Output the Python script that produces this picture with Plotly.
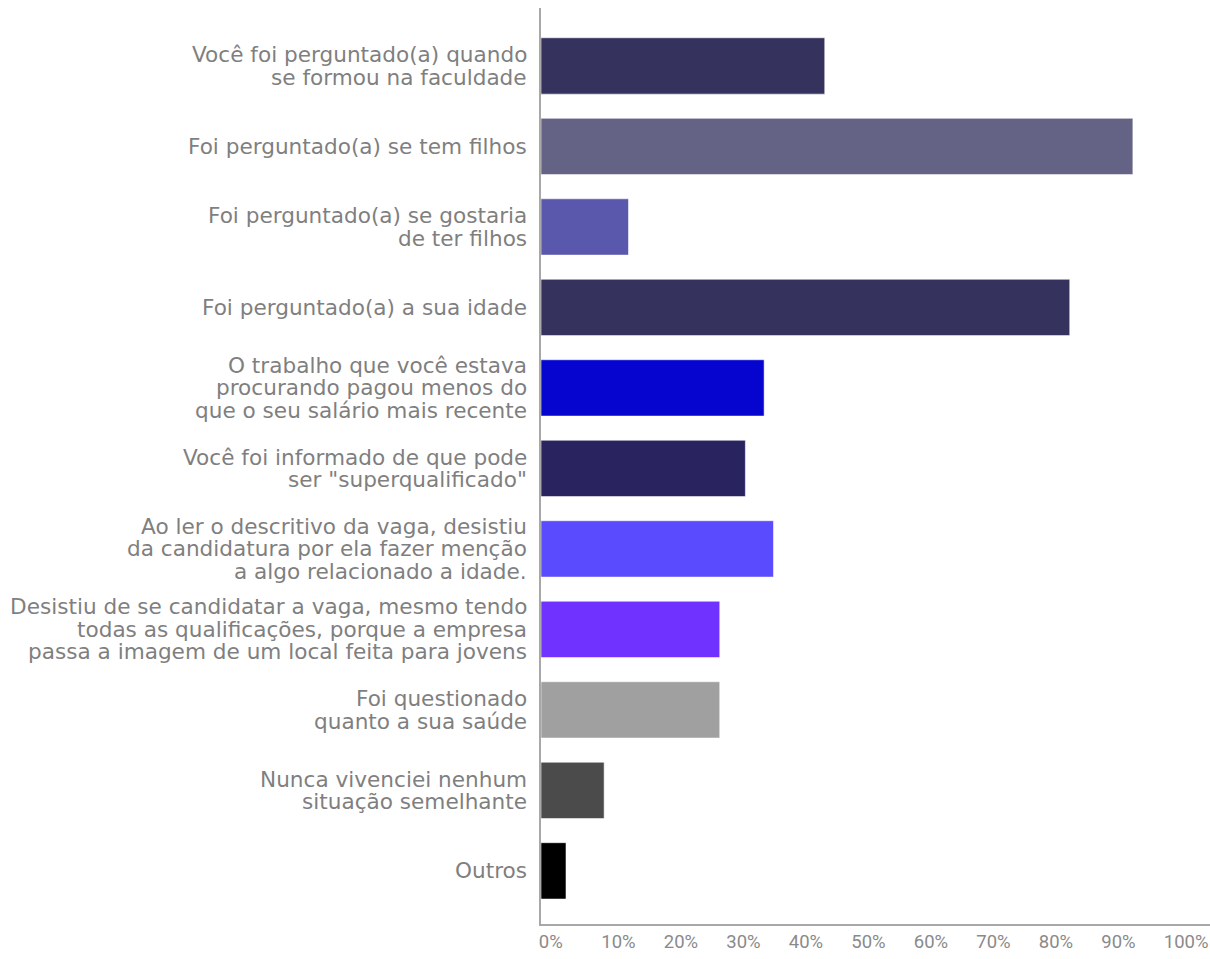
import plotly.graph_objects as go

# Survey answers (share of respondents, %); "\n" marks label line breaks
categories = [
    "Você foi perguntado(a) quando\nse formou na faculdade",
    "Foi perguntado(a) se tem filhos",
    "Foi perguntado(a) se gostaria\nde ter filhos",
    "Foi perguntado(a) a sua idade",
    "O trabalho que você estava\nprocurando pagou menos do\nque o seu salário mais recente",
    "Você foi informado de que pode\nser \"superqualificado\"",
    "Ao ler o descritivo da vaga, desistiu\nda candidatura por ela fazer menção\na algo relacionado a idade.",
    "Desistiu de se candidatar a vaga, mesmo tendo\ntodas as qualificações, porque a empresa\npassa a imagem de um local feita para jovens",
    "Foi questionado\nquanto a sua saúde",
    "Nunca vivenciei nenhum\nsituação semelhante",
    "Outros",
]
values = [45.4, 94.7, 14.0, 84.6, 35.7, 32.7, 37.2, 28.6, 28.6, 10.1, 4.0]
bar_colors = [
    "#35335D", "#646385", "#5A58AD", "#35335D", "#0505CF", "#29245F",
    "#5A4BFF", "#7033FF", "#A0A0A0", "#4B4B4B", "#000000",
]
tick_values = [0, 10, 20, 30, 40, 50, 60, 70, 80, 90, 100]
tick_labels = [f"{v}%" for v in tick_values]

LABEL_FONT = "DejaVu Sans"
TICK_FONT = "Liberation Sans Narrow, Roboto, Liberation Sans"
GREY = "#7f7f7f"
LABEL_SIZE = 21.6
LINE_STEP = 22.5  # px between label lines

fig = go.Figure(
    go.Bar(
        x=values,
        y=categories,
        orientation="h",
        marker=dict(color=bar_colors, line=dict(color="rgba(255,255,255,0.55)", width=1)),
        width=0.7,
        hoverinfo="skip",
    )
)

# Category labels: one right-aligned annotation per text line, stacked
# with a tight line step and centred on the bar.
annotations = []
for cat in categories:
    lines = cat.split("\n")
    n = len(lines)
    for i, line in enumerate(lines):
        annotations.append(
            dict(
                x=0,
                xref="paper",
                xanchor="right",
                xshift=-12,
                y=cat,
                yref="y",
                yanchor="middle",
                yshift=((n - 1) / 2 - i) * LINE_STEP,
                text=line,
                showarrow=False,
                font=dict(family=LABEL_FONT, size=LABEL_SIZE, color=GREY),
            )
        )

fig.update_layout(
    width=1210,
    height=959,
    margin=dict(l=541, r=0, t=8, b=35),
    paper_bgcolor="white",
    plot_bgcolor="white",
    showlegend=False,
    font=dict(family=LABEL_FONT, color=GREY),
    annotations=annotations,
)

fig.update_xaxes(
    range=[0, 107.04],
    automargin=False,
    tickvals=tick_values,
    ticktext=tick_labels,
    ticklabelposition="outside right",
    ticklabeloverflow="allow",
    ticklabelshift=-3,
    tickfont=dict(size=18.5, color="#8a8a8a", family=TICK_FONT),
    showgrid=False,
    zeroline=False,
    showline=True,
    linecolor="#a8a8a8",
    linewidth=1.5,
    ticks="",
)

fig.update_yaxes(
    categoryorder="array",
    categoryarray=categories,
    range=[10.66, -0.72],
    automargin=False,
    showticklabels=False,
    showgrid=False,
    zeroline=False,
    showline=True,
    linecolor="#a8a8a8",
    linewidth=1.5,
    ticks="",
)

fig.write_html("out.html")
